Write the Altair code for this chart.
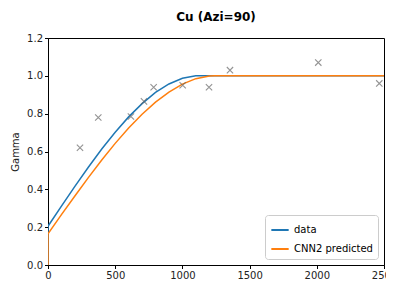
import altair as alt
import pandas as pd

# curves
h_blue = [0, 0, 100, 200, 300, 400, 500, 600, 700, 800, 900, 1000, 1100, 1120, 2500]
g_blue = [0.0, 0.205, 0.311, 0.416, 0.517, 0.613, 0.702, 0.783, 0.853, 0.912, 0.957, 0.987, 1.0, 1.0, 1.0]
h_orange = [0, 0, 100, 200, 300, 400, 500, 600, 700, 800, 900, 1000, 1100, 1200, 1240, 2500]
g_orange = [0.0, 0.165, 0.266, 0.365, 0.462, 0.555, 0.643, 0.724, 0.797, 0.861, 0.914, 0.956, 0.985, 0.999, 1.0, 1.0]

# scatter points
h_pts = [238, 374, 617, 714, 786, 1002, 1198, 1354, 2011, 2465]
g_pts = [0.62, 0.78, 0.785, 0.865, 0.94, 0.95, 0.94, 1.03, 1.07, 0.96]

# tick labels
x_ticks = [0, 500, 1000, 1500, 2000, 2500]
y_ticks = [0, 0.2, 0.4, 0.6, 0.8, 1.0, 1.2]

series_names = ["data", "CNN2 predicted"]
colors = ["#1f77b4", "#ff7f0e"]

rows = []
for i, (h, g) in enumerate(zip(h_blue, g_blue)):
    rows.append({"h": h, "g": g, "s": series_names[0], "o": i})
for i, (h, g) in enumerate(zip(h_orange, g_orange)):
    rows.append({"h": h, "g": g, "s": series_names[1], "o": i})
lines_df = pd.DataFrame(rows)
pts_df = pd.DataFrame({"h": h_pts, "g": g_pts})

xs = alt.Scale(domain=[0, 2500], nice=False)
ys = alt.Scale(domain=[0, 1.2], nice=False)

x_axis = alt.Axis(values=x_ticks, tickCount=len(x_ticks), format="d", title="h", grid=False,
                  labelOverlap=False, labelFlush=False)
y_axis = alt.Axis(values=y_ticks, tickCount=len(y_ticks), format=".1f", title="Gamma", grid=False,
                  labelOverlap=False, labelFlush=False, titlePadding=6)

lines = alt.Chart(lines_df).mark_line(strokeWidth=1.5, clip=True).encode(
    x=alt.X("h:Q", scale=xs, axis=x_axis),
    y=alt.Y("g:Q", scale=ys, axis=y_axis),
    color=alt.Color("s:N", scale=alt.Scale(domain=series_names, range=colors),
                    legend=alt.Legend(title=None, orient="bottom-right", symbolType="stroke",
                                      symbolStrokeWidth=2, symbolSize=300,
                                      fillColor="white", strokeColor="#cccccc",
                                      padding=5, cornerRadius=3, labelFontSize=10,
                                      offset=6, rowPadding=4)),
    order="o:Q",
)

pts = alt.Chart(pts_df).mark_point(
    shape="M-1,-1L1,1M-1,1L1,-1", color="#666666", strokeWidth=1.1, size=40, filled=False
).encode(x=alt.X("h:Q", scale=xs), y=alt.Y("g:Q", scale=ys))

chart = alt.layer(lines, pts).properties(
    width=336, height=227,
    title=alt.TitleParams("Cu (Azi=90)", fontSize=12, fontWeight="bold", font="DejaVu Sans", offset=9),
    autosize=alt.AutoSizeParams(type="none"),
    padding={"left": 40, "top": 30, "right": 2, "bottom": 20},
).configure_view(stroke="black", strokeWidth=1).configure_axis(
    domainColor="black", tickColor="black", labelColor="#222222", titleColor="#222222",
    labelFont="DejaVu Sans", titleFont="DejaVu Sans", labelFontSize=10, titleFontSize=10,
    titleFontWeight="normal", tickSize=3.5, labelPadding=2,
).configure_legend(labelFont="DejaVu Sans")

chart.save("out.html", embed_options={"renderer": "svg", "actions": False})
